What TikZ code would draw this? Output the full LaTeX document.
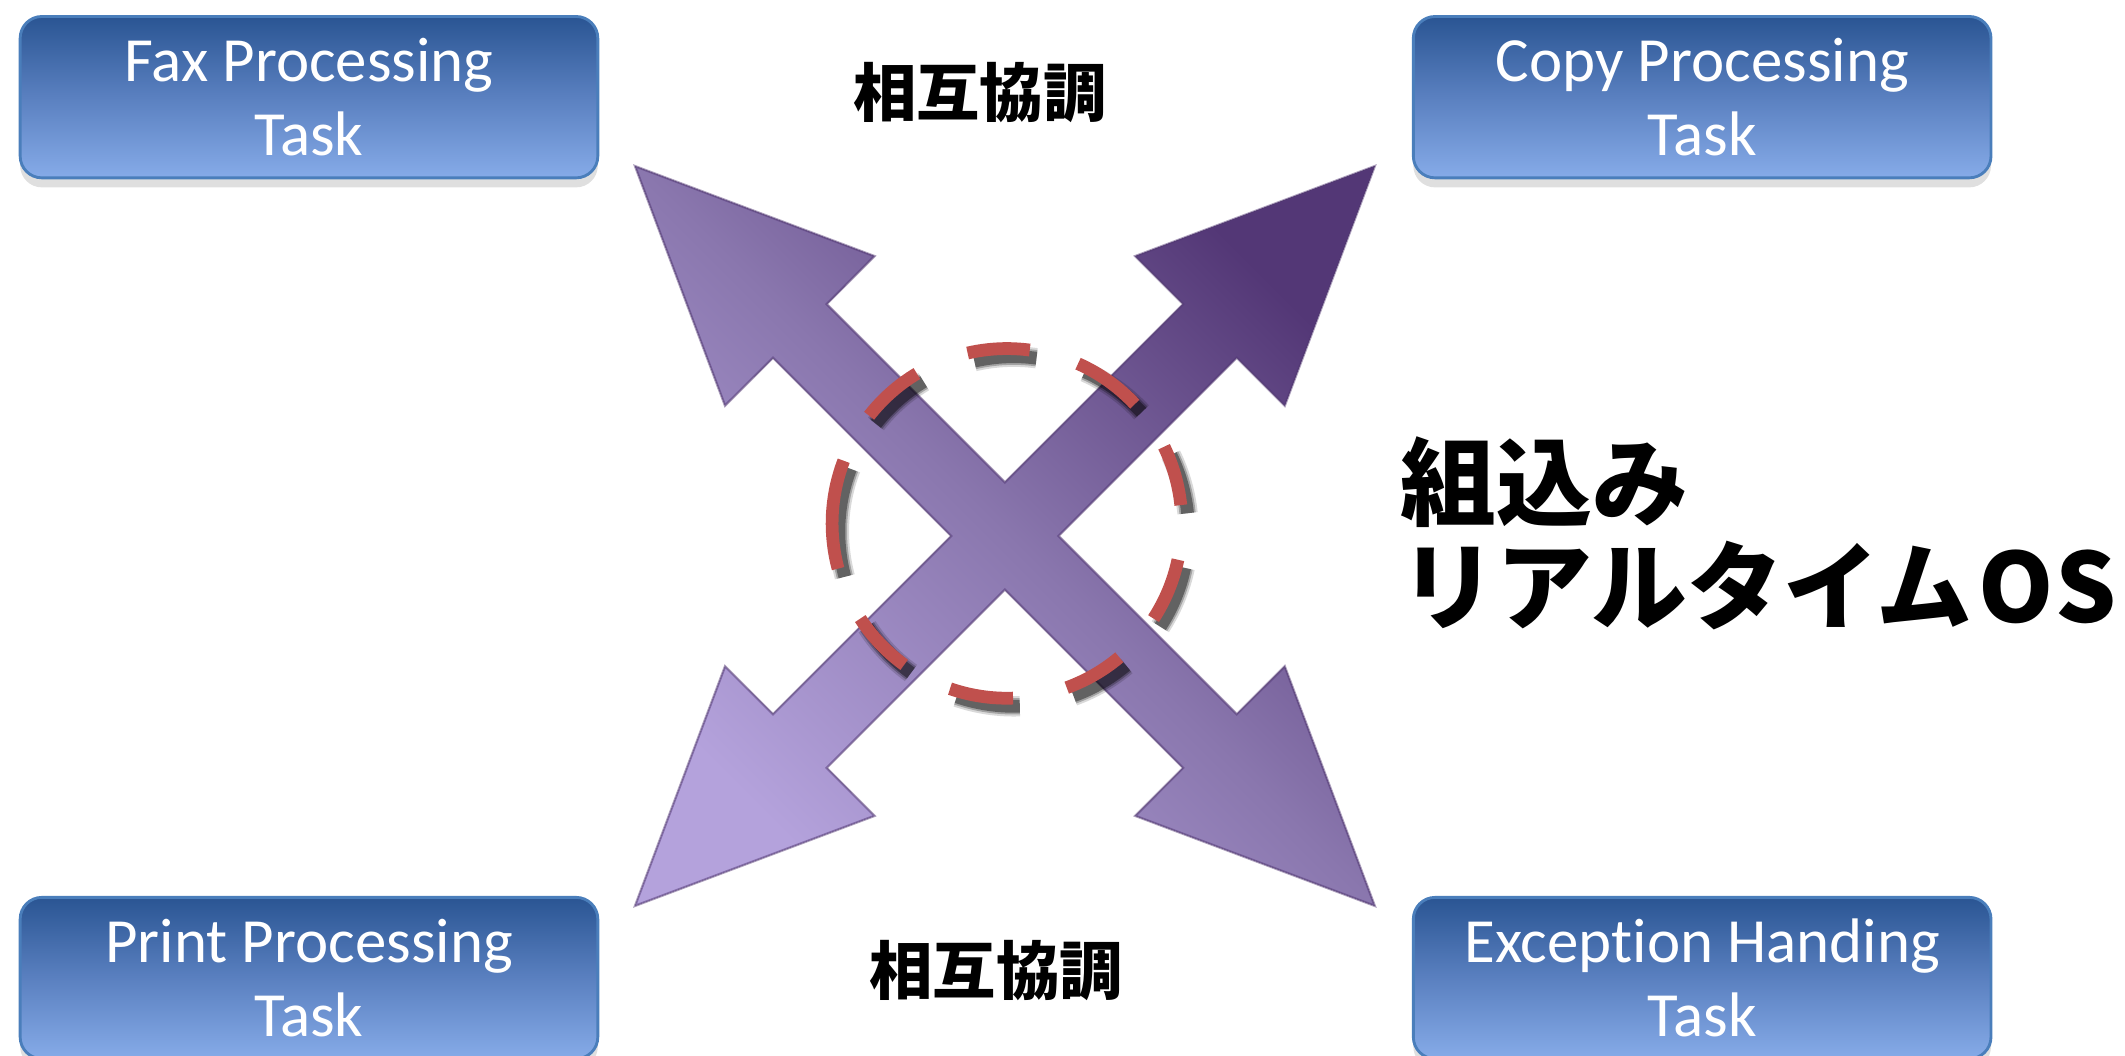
\documentclass[tikz,border=0pt]{standalone}
\usepackage{fontspec}
\setmainfont{Carlito}[Ligatures=NoCommon]
\newfontfamily\jp{Noto Sans CJK JP}
\usetikzlibrary{shadows}
\definecolor{boxtop}{HTML}{2A5593}
\definecolor{boxmid}{HTML}{5A80C0}
\definecolor{boxbot}{HTML}{86ABE8}
\definecolor{boxedge}{HTML}{4A7EBB}
\definecolor{arrlight}{HTML}{B4A2DC}
\definecolor{arrmid}{HTML}{8A77AE}
\definecolor{arrdark}{HTML}{533776}
\definecolor{ringred}{HTML}{C0504D}
\begin{document}
\begin{tikzpicture}[x=0.01cm,y=0.01cm,
  taskbox/.style={draw=boxedge, line width=0.6pt, rounded corners=0.16cm,
    top color=boxtop, bottom color=boxbot, middle color=boxmid,
    minimum width=4.26cm, minimum height=1.19cm, inner sep=0pt,
    text=white, align=center, font=\fontsize{13.2}{15.6}\selectfont,
    drop shadow={opacity=0.25, shadow xshift=0pt, shadow yshift=-2pt}},
  jplabel/.style={font=\jp\bfseries\fontsize{13.3}{16}\selectfont, inner sep=0pt},
  ring/.style={ringred, line width=0.094cm},
  ringshadow/.style={black, line width=0.094cm}
]
\useasboundingbox (0,0) rectangle (1568,779.2);

% task boxes
\node[taskbox] (fax)  at (228,707.5)  {Fax Processing\\Task};
\node[taskbox] (copy) at (1256,707.5) {Copy Processing\\Task};
\node[taskbox] (print) at (228,57.5)  {Print Processing\\Task};
\node[taskbox] (exc)  at (1256,57.5)  {Exception Handing\\Task};

% labels
\node[jplabel] (coopt) at (723,711) {相互協調};
\node[jplabel] (coopb) at (735,63) {相互協調};
\node[anchor=west, inner sep=0pt, align=left,
      font=\jp\bfseries\fontsize{20.1}{21.9}\selectfont] (rtos) at (1033,385.5)
      {組込み\\リアルタイム\kern0.06em O\kern0.02em S};

% crossed double arrows
\begin{scope}[shift={(741.5,383.7)}]
\fill[top color=arrdark, bottom color=arrlight, middle color=arrmid, shading angle=-45]
  (39.6,0) -- (171.1,131.5) -- (206.5,96.2) -- (272.9,272.9) -- (96.2,206.5) -- (131.5,171.1)
  -- (0,39.6) -- (-131.5,171.1) -- (-96.2,206.5) -- (-272.9,272.9) -- (-206.5,96.2) -- (-171.1,131.5)
  -- (-39.6,0) -- (-171.1,-131.5) -- (-206.5,-96.2) -- (-272.9,-272.9) -- (-96.2,-206.5) -- (-131.5,-171.1)
  -- (0,-39.6) -- (131.5,-171.1) -- (96.2,-206.5) -- (272.9,-272.9) -- (206.5,-96.2) -- (171.1,-131.5)
  -- cycle;
\draw[arrdark, line width=0.5pt, opacity=0.5, line join=miter]
  (39.6,0) -- (171.1,131.5) -- (206.5,96.2) -- (272.9,272.9) -- (96.2,206.5) -- (131.5,171.1)
  -- (0,39.6) -- (-131.5,171.1) -- (-96.2,206.5) -- (-272.9,272.9) -- (-206.5,96.2) -- (-171.1,131.5)
  -- (-39.6,0) -- (-171.1,-131.5) -- (-206.5,-96.2) -- (-272.9,-272.9) -- (-96.2,-206.5) -- (-131.5,-171.1)
  -- (0,-39.6) -- (131.5,-171.1) -- (96.2,-206.5) -- (272.9,-272.9) -- (206.5,-96.2) -- (171.1,-131.5)
  -- cycle;
\end{scope}

% dashed ring
\coordinate (ringc) at (743,393);
\coordinate (ringsh) at (748,387);
\foreach \a/\b in {82.5/103, 43/66, 6/26, -33/-12, -70/-50, -109/-88, -147/-126, 159/195, 121/142}{
  \draw[ringshadow, opacity=0.15, line width=0.15cm] (ringsh) ++(\a:129) arc[start angle=\a, end angle=\b, radius=129];
  \draw[ringshadow, opacity=0.25, line width=0.12cm] (ringsh) ++(\a:129) arc[start angle=\a, end angle=\b, radius=129];
  \draw[ringshadow, opacity=0.4] (ringsh) ++(\a:129) arc[start angle=\a, end angle=\b, radius=129];
}
\foreach \a/\b in {82.5/103, 43/66, 6/26, -33/-12, -70/-50, -109/-88, -147/-126, 159/195, 121/142}{
  \draw[ring] (ringc) ++(\a:129) arc[start angle=\a, end angle=\b, radius=129];
}
\end{tikzpicture}
\end{document}
